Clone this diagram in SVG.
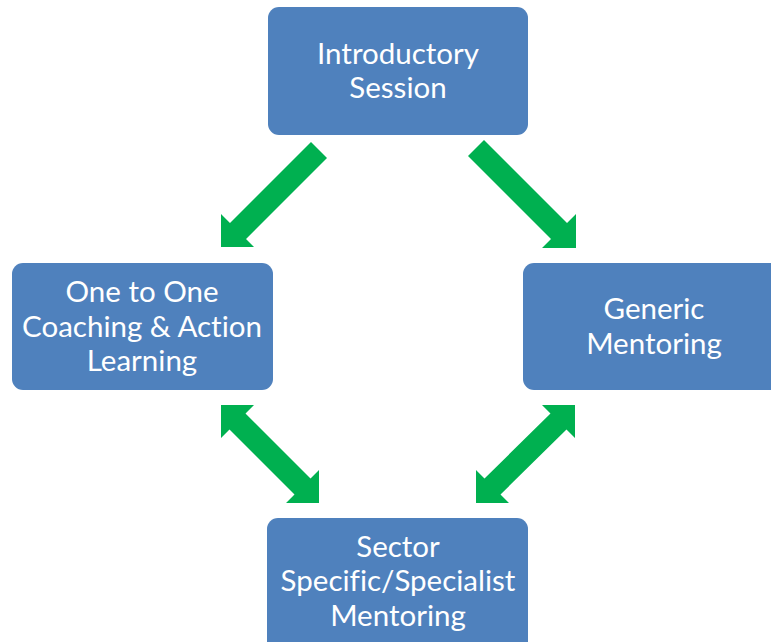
<svg xmlns="http://www.w3.org/2000/svg" width="771" height="642" viewBox="0 0 771 642">
<style>
.box{fill:#4F81BD;}
.lbl{fill:#FFFFFF;font-family:Lato,"Open Sans","Liberation Sans",sans-serif;font-size:29.5px;text-anchor:middle;font-variant-ligatures:none;}
.arr{fill:#00B050;}
</style>
<rect width="771" height="642" fill="#FFFFFF"/>
<g id="connectors">
<polygon class="arr" points="311,142 327,158 246,239 254,247 221,247 221,214 230,223"/>
<polygon class="arr" points="468,156 484,140 567,223 576,214 576,248 542,248 551,239"/>
<polygon class="arr" points="221,405 254,405 245.5,413.5 310.5,478.5 319,470 319,503 286,503 294.5,494.5 229.5,429.5 221,438"/>
<polygon class="arr" points="575,405 575,438 566.5,429.5 500.5,494.5 509,503 476,503 476,470 484.5,478.5 550.5,413.5 542,405"/>
</g>
<g id="intro">
<rect class="box" x="268" y="7" width="260" height="128" rx="11"/>
<text class="lbl" x="398" y="64">Introductory</text>
<text class="lbl" x="398" y="98">Session</text>
</g>
<g id="coaching">
<rect class="box" x="12" y="263" width="261" height="127" rx="11"/>
<text class="lbl" x="142" y="302">One to One</text>
<text class="lbl" x="142" y="337">Coaching &amp; Action</text>
<text class="lbl" x="142" y="371">Learning</text>
</g>
<g id="generic">
<rect class="box" x="523" y="263" width="262" height="127" rx="11"/>
<text class="lbl" x="654" y="319">Generic</text>
<text class="lbl" x="654" y="354">Mentoring</text>
</g>
<g id="sector">
<rect class="box" x="267" y="518" width="261" height="140" rx="11"/>
<text class="lbl" x="398" y="557">Sector</text>
<text class="lbl" x="398" y="591">Specific/Specialist</text>
<text class="lbl" x="398" y="626">Mentoring</text>
</g>
</svg>
